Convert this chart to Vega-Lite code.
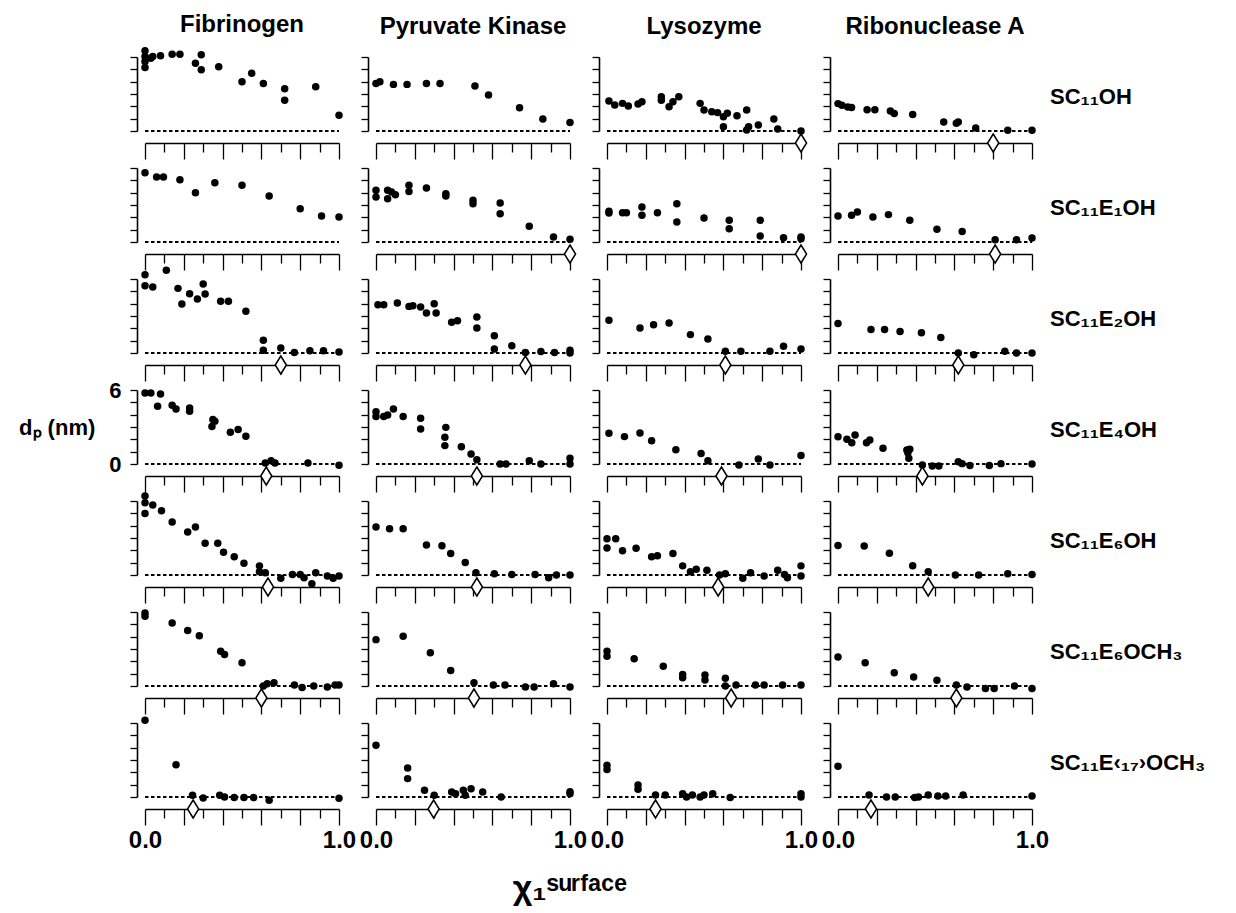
{
"$schema":"https://vega.github.io/schema/vega-lite/v6.json",
"background":"white",
"padding":{"left":18,"top":13,"right":5,"bottom":5},
"columns":4,
"spacing":{"row":37,"column":37},
"bounds":"flush",
"title":{"text":"χ₁ˢᵘʳᶠᵃᶜᵉ","orient":"bottom","anchor":"middle","fontSize":34,"fontWeight":"bold","offset":20,"dx":-42},
"datasets":{
"Fib_OH":[{"chi":0,"dp":6.5},{"chi":0,"dp":6.04},{"chi":0,"dp":5.64},{"chi":0,"dp":5.15},{"chi":0.03,"dp":5.9},{"chi":0.04,"dp":6.04},{"chi":0.08,"dp":6.1},{"chi":0.14,"dp":6.23},{"chi":0.18,"dp":6.23},{"chi":0.26,"dp":5.5},{"chi":0.29,"dp":6.18},{"chi":0.29,"dp":4.96},{"chi":0.38,"dp":5.2},{"chi":0.5,"dp":3.99},{"chi":0.55,"dp":4.69},{"chi":0.61,"dp":3.85},{"chi":0.72,"dp":3.42},{"chi":0.72,"dp":2.5},{"chi":0.88,"dp":3.58},{"chi":1,"dp":1.28}],
"PK_OH":[{"chi":0,"dp":3.86},{"chi":0.02,"dp":4.0},{"chi":0.09,"dp":3.78},{"chi":0.16,"dp":3.78},{"chi":0.26,"dp":3.86},{"chi":0.33,"dp":3.86},{"chi":0.51,"dp":3.65},{"chi":0.58,"dp":2.92},{"chi":0.74,"dp":1.89},{"chi":0.86,"dp":0.97},{"chi":1,"dp":0.68}],
"Lys_OH":[{"chi":0.01,"dp":2.43},{"chi":0.04,"dp":2.1},{"chi":0.08,"dp":2.24},{"chi":0.11,"dp":2.03},{"chi":0.16,"dp":2.19},{"chi":0.18,"dp":2.38},{"chi":0.28,"dp":2.5},{"chi":0.28,"dp":2.78},{"chi":0.32,"dp":1.97},{"chi":0.34,"dp":2.38},{"chi":0.37,"dp":2.78},{"chi":0.48,"dp":2.24},{"chi":0.5,"dp":1.7},{"chi":0.54,"dp":1.57},{"chi":0.57,"dp":1.49},{"chi":0.6,"dp":1.16},{"chi":0.6,"dp":0.35},{"chi":0.62,"dp":1.43},{"chi":0.67,"dp":1.24},{"chi":0.72,"dp":1.7},{"chi":0.72,"dp":0.08},{"chi":0.73,"dp":0.35},{"chi":0.78,"dp":0.49},{"chi":0.86,"dp":0.97},{"chi":0.88,"dp":0.16},{"chi":1,"dp":0.0}],
"RNase_OH":[{"chi":0,"dp":2.22},{"chi":0.02,"dp":2.08},{"chi":0.05,"dp":1.95},{"chi":0.07,"dp":1.9},{"chi":0.15,"dp":1.73},{"chi":0.19,"dp":1.73},{"chi":0.27,"dp":1.62},{"chi":0.29,"dp":1.41},{"chi":0.385,"dp":1.33},{"chi":0.545,"dp":0.73},{"chi":0.61,"dp":0.62},{"chi":0.62,"dp":0.73},{"chi":0.71,"dp":0.24},{"chi":0.875,"dp":0.06},{"chi":1,"dp":0.06}],
"Fib_E1":[{"chi":0,"dp":5.62},{"chi":0.06,"dp":5.27},{"chi":0.095,"dp":5.27},{"chi":0.18,"dp":5.05},{"chi":0.26,"dp":4.0},{"chi":0.36,"dp":4.81},{"chi":0.5,"dp":4.6},{"chi":0.64,"dp":3.73},{"chi":0.8,"dp":2.7},{"chi":0.91,"dp":2.1},{"chi":1,"dp":2.03}],
"PK_E1":[{"chi":0,"dp":4.19},{"chi":0,"dp":3.65},{"chi":0.06,"dp":4.19},{"chi":0.06,"dp":3.5},{"chi":0.08,"dp":4.05},{"chi":0.1,"dp":3.84},{"chi":0.17,"dp":4.6},{"chi":0.17,"dp":4.1},{"chi":0.26,"dp":4.38},{"chi":0.36,"dp":3.92},{"chi":0.36,"dp":3.73},{"chi":0.5,"dp":3.38},{"chi":0.5,"dp":3.1},{"chi":0.64,"dp":3.16},{"chi":0.64,"dp":2.3},{"chi":0.79,"dp":1.27},{"chi":0.915,"dp":0.4},{"chi":1,"dp":0.22}],
"Lys_E1":[{"chi":0.01,"dp":2.49},{"chi":0.01,"dp":2.35},{"chi":0.08,"dp":2.38},{"chi":0.1,"dp":2.38},{"chi":0.18,"dp":2.84},{"chi":0.18,"dp":2.16},{"chi":0.26,"dp":2.38},{"chi":0.36,"dp":3.1},{"chi":0.36,"dp":1.62},{"chi":0.5,"dp":1.95},{"chi":0.63,"dp":1.76},{"chi":0.63,"dp":1.08},{"chi":0.79,"dp":1.76},{"chi":0.79,"dp":0.49},{"chi":0.91,"dp":0.35},{"chi":1,"dp":0.4},{"chi":1,"dp":0.27}],
"RNase_E1":[{"chi":0,"dp":2.1},{"chi":0.07,"dp":2.16},{"chi":0.1,"dp":2.43},{"chi":0.18,"dp":2.03},{"chi":0.26,"dp":2.22},{"chi":0.37,"dp":1.76},{"chi":0.51,"dp":1.03},{"chi":0.64,"dp":0.86},{"chi":0.81,"dp":0.19},{"chi":0.92,"dp":0.19},{"chi":1,"dp":0.32}],
"Fib_E2":[{"chi":0,"dp":6.35},{"chi":0,"dp":5.46},{"chi":0.04,"dp":5.35},{"chi":0.11,"dp":6.7},{"chi":0.17,"dp":5.24},{"chi":0.19,"dp":3.97},{"chi":0.23,"dp":4.81},{"chi":0.27,"dp":4.38},{"chi":0.3,"dp":5.59},{"chi":0.31,"dp":4.78},{"chi":0.39,"dp":4.19},{"chi":0.43,"dp":4.19},{"chi":0.52,"dp":3.38},{"chi":0.61,"dp":1.03},{"chi":0.61,"dp":0.22},{"chi":0.7,"dp":0.4},{"chi":0.77,"dp":0.05},{"chi":0.85,"dp":0.19},{"chi":0.92,"dp":0.19},{"chi":1,"dp":0.08}],
"PK_E2":[{"chi":0.01,"dp":3.92},{"chi":0.04,"dp":3.92},{"chi":0.11,"dp":4.05},{"chi":0.17,"dp":3.78},{"chi":0.19,"dp":3.84},{"chi":0.23,"dp":3.73},{"chi":0.26,"dp":3.24},{"chi":0.31,"dp":3.24},{"chi":0.3,"dp":4.0},{"chi":0.39,"dp":2.49},{"chi":0.42,"dp":2.62},{"chi":0.52,"dp":2.92},{"chi":0.52,"dp":2.03},{"chi":0.61,"dp":1.4},{"chi":0.61,"dp":0.32},{"chi":0.7,"dp":0.59},{"chi":0.77,"dp":0.05},{"chi":0.85,"dp":0.13},{"chi":0.92,"dp":0.05},{"chi":1,"dp":0.22},{"chi":1,"dp":0.0}],
"Lys_E2":[{"chi":0.01,"dp":2.65},{"chi":0.17,"dp":2.03},{"chi":0.24,"dp":2.3},{"chi":0.32,"dp":2.43},{"chi":0.43,"dp":1.49},{"chi":0.52,"dp":1.14},{"chi":0.61,"dp":0.14},{"chi":0.69,"dp":0.14},{"chi":0.84,"dp":0.14},{"chi":0.91,"dp":0.54},{"chi":1,"dp":0.32}],
"RNase_E2":[{"chi":0,"dp":2.4},{"chi":0.17,"dp":1.9},{"chi":0.24,"dp":1.9},{"chi":0.32,"dp":1.75},{"chi":0.43,"dp":1.65},{"chi":0.53,"dp":1.25},{"chi":0.62,"dp":0.0},{"chi":0.7,"dp":-0.15},{"chi":0.86,"dp":0.14},{"chi":0.92,"dp":0.0},{"chi":1,"dp":0.0}],
"Fib_E4":[{"chi":0,"dp":5.76},{"chi":0.03,"dp":5.76},{"chi":0.08,"dp":5.68},{"chi":0.065,"dp":4.68},{"chi":0.14,"dp":4.76},{"chi":0.16,"dp":4.46},{"chi":0.23,"dp":4.54},{"chi":0.23,"dp":4.27},{"chi":0.35,"dp":3.6},{"chi":0.36,"dp":3.46},{"chi":0.345,"dp":3.05},{"chi":0.44,"dp":2.57},{"chi":0.48,"dp":2.79},{"chi":0.52,"dp":2.25},{"chi":0.62,"dp":0.08},{"chi":0.65,"dp":0.27},{"chi":0.67,"dp":0.08},{"chi":0.84,"dp":0.08},{"chi":1,"dp":-0.1}],
"PK_E4":[{"chi":0,"dp":4.24},{"chi":0,"dp":3.86},{"chi":0.04,"dp":3.86},{"chi":0.06,"dp":3.97},{"chi":0.09,"dp":4.46},{"chi":0.14,"dp":3.86},{"chi":0.23,"dp":3.7},{"chi":0.23,"dp":2.84},{"chi":0.36,"dp":2.97},{"chi":0.355,"dp":2.16},{"chi":0.355,"dp":1.49},{"chi":0.44,"dp":1.4},{"chi":0.49,"dp":0.81},{"chi":0.52,"dp":0.35},{"chi":0.64,"dp":0.0},{"chi":0.67,"dp":0.0},{"chi":0.79,"dp":0.27},{"chi":0.85,"dp":0.0},{"chi":1,"dp":0.46},{"chi":1,"dp":0.0}],
"Lys_E4":[{"chi":0.01,"dp":2.49},{"chi":0.09,"dp":2.22},{"chi":0.17,"dp":2.51},{"chi":0.23,"dp":1.89},{"chi":0.355,"dp":1.16},{"chi":0.485,"dp":0.86},{"chi":0.52,"dp":0.27},{"chi":0.68,"dp":-0.08},{"chi":0.78,"dp":0.4},{"chi":0.84,"dp":-0.08},{"chi":1,"dp":0.68}],
"RNase_E4":[{"chi":0,"dp":2.21},{"chi":0.046,"dp":2.0},{"chi":0.071,"dp":1.73},{"chi":0.088,"dp":2.35},{"chi":0.147,"dp":1.73},{"chi":0.164,"dp":1.95},{"chi":0.232,"dp":1.27},{"chi":0.355,"dp":1.14},{"chi":0.36,"dp":0.92},{"chi":0.365,"dp":0.46},{"chi":0.37,"dp":1.19},{"chi":0.435,"dp":-0.08},{"chi":0.486,"dp":-0.16},{"chi":0.52,"dp":-0.16},{"chi":0.62,"dp":0.19},{"chi":0.64,"dp":0.03},{"chi":0.68,"dp":-0.13},{"chi":0.78,"dp":-0.13},{"chi":0.84,"dp":0.03},{"chi":1,"dp":0.0}],
"Fib_E6":[{"chi":0,"dp":6.4},{"chi":0,"dp":5.86},{"chi":0,"dp":4.99},{"chi":0.04,"dp":5.67},{"chi":0.085,"dp":5.2},{"chi":0.14,"dp":4.3},{"chi":0.22,"dp":3.48},{"chi":0.26,"dp":3.89},{"chi":0.31,"dp":2.58},{"chi":0.375,"dp":2.58},{"chi":0.405,"dp":1.84},{"chi":0.46,"dp":1.48},{"chi":0.51,"dp":0.96},{"chi":0.59,"dp":0.74},{"chi":0.59,"dp":0.27},{"chi":0.62,"dp":0.19},{"chi":0.7,"dp":-0.27},{"chi":0.76,"dp":0.05},{"chi":0.8,"dp":0.05},{"chi":0.82,"dp":-0.22},{"chi":0.86,"dp":-0.71},{"chi":0.88,"dp":0.19},{"chi":0.94,"dp":-0.08},{"chi":0.97,"dp":-0.27},{"chi":1,"dp":-0.08}],
"PK_E6":[{"chi":0,"dp":3.89},{"chi":0.07,"dp":3.75},{"chi":0.14,"dp":3.75},{"chi":0.26,"dp":2.44},{"chi":0.34,"dp":2.38},{"chi":0.385,"dp":1.75},{"chi":0.46,"dp":1.01},{"chi":0.515,"dp":0.19},{"chi":0.61,"dp":0.11},{"chi":0.7,"dp":0.05},{"chi":0.82,"dp":0.05},{"chi":0.89,"dp":-0.22},{"chi":0.93,"dp":0.0},{"chi":1,"dp":0.0}],
"Lys_E6":[{"chi":0,"dp":2.93},{"chi":0,"dp":2.19},{"chi":0.045,"dp":2.93},{"chi":0.08,"dp":1.97},{"chi":0.15,"dp":2.16},{"chi":0.23,"dp":1.48},{"chi":0.26,"dp":1.56},{"chi":0.34,"dp":1.75},{"chi":0.39,"dp":0.74},{"chi":0.43,"dp":0.27},{"chi":0.46,"dp":0.47},{"chi":0.515,"dp":0.38},{"chi":0.58,"dp":0.0},{"chi":0.61,"dp":0.11},{"chi":0.7,"dp":-0.27},{"chi":0.74,"dp":0.19},{"chi":0.81,"dp":-0.08},{"chi":0.88,"dp":0.38},{"chi":0.915,"dp":0.05},{"chi":0.93,"dp":-0.22},{"chi":1,"dp":0.74},{"chi":1,"dp":-0.08}],
"RNase_E6":[{"chi":0,"dp":2.4},{"chi":0.135,"dp":2.35},{"chi":0.265,"dp":1.76},{"chi":0.385,"dp":0.75},{"chi":0.465,"dp":0.27},{"chi":0.605,"dp":0.0},{"chi":0.725,"dp":0.0},{"chi":0.875,"dp":0.1},{"chi":1,"dp":0.05}],
"Fib_E6M":[{"chi":0,"dp":5.91},{"chi":0,"dp":5.65},{"chi":0.14,"dp":5.1},{"chi":0.22,"dp":4.5},{"chi":0.28,"dp":4.08},{"chi":0.39,"dp":2.82},{"chi":0.41,"dp":2.55},{"chi":0.5,"dp":1.88},{"chi":0.61,"dp":0.0},{"chi":0.63,"dp":0.19},{"chi":0.665,"dp":0.27},{"chi":0.77,"dp":0.08},{"chi":0.81,"dp":-0.13},{"chi":0.87,"dp":0.0},{"chi":0.94,"dp":-0.08},{"chi":0.98,"dp":0.08},{"chi":1,"dp":0.08}],
"PK_E6M":[{"chi":0,"dp":3.76},{"chi":0.14,"dp":4.03},{"chi":0.28,"dp":2.69},{"chi":0.385,"dp":1.26},{"chi":0.505,"dp":0.27},{"chi":0.605,"dp":0.08},{"chi":0.665,"dp":0.08},{"chi":0.77,"dp":-0.08},{"chi":0.815,"dp":-0.08},{"chi":0.915,"dp":0.19},{"chi":1,"dp":-0.08}],
"Lys_E6M":[{"chi":0,"dp":2.82},{"chi":0,"dp":2.42},{"chi":0.14,"dp":2.2},{"chi":0.29,"dp":1.61},{"chi":0.39,"dp":0.94},{"chi":0.39,"dp":0.67},{"chi":0.505,"dp":0.89},{"chi":0.505,"dp":0.48},{"chi":0.61,"dp":0.62},{"chi":0.61,"dp":0.0},{"chi":0.665,"dp":0.08},{"chi":0.765,"dp":0.08},{"chi":0.81,"dp":0.08},{"chi":0.905,"dp":0.08},{"chi":1,"dp":0.08}],
"RNase_E6M":[{"chi":0,"dp":2.35},{"chi":0.14,"dp":1.89},{"chi":0.29,"dp":1.08},{"chi":0.39,"dp":0.73},{"chi":0.51,"dp":0.46},{"chi":0.61,"dp":0.08},{"chi":0.665,"dp":-0.08},{"chi":0.76,"dp":-0.2},{"chi":0.805,"dp":-0.2},{"chi":0.91,"dp":0.0},{"chi":1,"dp":-0.2}],
"Fib_E17":[{"chi":0,"dp":6.22},{"chi":0.16,"dp":2.62},{"chi":0.245,"dp":0.14},{"chi":0.3,"dp":-0.08},{"chi":0.385,"dp":0.14},{"chi":0.41,"dp":0.0},{"chi":0.46,"dp":-0.05},{"chi":0.51,"dp":-0.05},{"chi":0.56,"dp":-0.05},{"chi":0.64,"dp":-0.27},{"chi":1,"dp":-0.1}],
"PK_E17":[{"chi":0,"dp":4.19},{"chi":0.163,"dp":2.35},{"chi":0.163,"dp":1.49},{"chi":0.25,"dp":0.54},{"chi":0.3,"dp":0.14},{"chi":0.39,"dp":0.4},{"chi":0.41,"dp":0.27},{"chi":0.45,"dp":0.54},{"chi":0.46,"dp":0.14},{"chi":0.49,"dp":0.67},{"chi":0.55,"dp":0.4},{"chi":0.645,"dp":0.0},{"chi":1,"dp":0.43},{"chi":1,"dp":0.27}],
"Lys_E17":[{"chi":0,"dp":2.58},{"chi":0,"dp":2.23},{"chi":0.16,"dp":0.97},{"chi":0.16,"dp":0.62},{"chi":0.25,"dp":0.16},{"chi":0.3,"dp":0.16},{"chi":0.39,"dp":0.27},{"chi":0.41,"dp":0.0},{"chi":0.44,"dp":0.16},{"chi":0.48,"dp":0.0},{"chi":0.5,"dp":0.16},{"chi":0.545,"dp":0.27},{"chi":0.635,"dp":-0.05},{"chi":1,"dp":0.27},{"chi":1,"dp":0.0}],
"RNase_E17":[{"chi":0,"dp":2.5},{"chi":0.16,"dp":0.16},{"chi":0.25,"dp":0.0},{"chi":0.295,"dp":0.0},{"chi":0.395,"dp":-0.05},{"chi":0.415,"dp":0.0},{"chi":0.465,"dp":0.16},{"chi":0.515,"dp":0.08},{"chi":0.555,"dp":0.08},{"chi":0.645,"dp":0.16},{"chi":1,"dp":0.08}],
"transitions":[
{"panel":"Fib_OH","transition":null},{"panel":"PK_OH","transition":null},{"panel":"Lys_OH","transition":1.0},{"panel":"RNase_OH","transition":0.8,"label":"SC₁₁OH"},
{"panel":"Fib_E1","transition":null},{"panel":"PK_E1","transition":1.0},{"panel":"Lys_E1","transition":1.0},{"panel":"RNase_E1","transition":0.81,"label":"SC₁₁E₁OH"},
{"panel":"Fib_E2","transition":0.7},{"panel":"PK_E2","transition":0.77},{"panel":"Lys_E2","transition":0.61},{"panel":"RNase_E2","transition":0.62,"label":"SC₁₁E₂OH"},
{"panel":"Fib_E4","transition":0.625},{"panel":"PK_E4","transition":0.52},{"panel":"Lys_E4","transition":0.59},{"panel":"RNase_E4","transition":0.435,"label":"SC₁₁E₄OH"},
{"panel":"Fib_E6","transition":0.634},{"panel":"PK_E6","transition":0.52},{"panel":"Lys_E6","transition":0.573},{"panel":"RNase_E6","transition":0.465,"label":"SC₁₁E₆OH"},
{"panel":"Fib_E6M","transition":0.6},{"panel":"PK_E6M","transition":0.505},{"panel":"Lys_E6M","transition":0.64},{"panel":"RNase_E6M","transition":0.61,"label":"SC₁₁E₆OCH₃"},
{"panel":"Fib_E17","transition":0.248},{"panel":"PK_E17","transition":0.297},{"panel":"Lys_E17","transition":0.25},{"panel":"RNase_E17","transition":0.17,"label":"SC₁₁E‹₁₇›OCH₃"}]
},
"concat":[
{"width":194,"height":74,"title":{"text":"Fibrinogen","fontSize":24,"fontWeight":"bold","anchor":"middle","frame":"group","offset":10},"layer":[
{"data":{"name":"Fib_OH"},"mark":"circle","encoding":{"x":{"field":"chi","type":"quantitative","title":null,"scale":{"domain":[0,1],"nice":false},"axis":{"offset":12,"tickCount":10,"tickSize":{"condition":{"test":"round(datum.value*10)%2==0","value":16},"value":9},"labels":false}},"y":{"field":"dp","type":"quantitative","title":null,"scale":{"domain":[0,6],"nice":false},"axis":{"orient":"left","offset":8,"tickCount":6,"tickSize":7,"labels":false}}}},
{"data":{"name":"transitions"},"transform":[{"filter":"datum.panel=='Fib_OH'"}],"mark":"rule","encoding":{"x":{"datum":0,"type":"quantitative"},"x2":{"datum":1},"y":{"datum":0,"type":"quantitative"}}},
{"data":{"name":"transitions"},"transform":[{"filter":"datum.panel=='Fib_OH'&&isValid(datum.transition)"}],"mark":"point","encoding":{"x":{"field":"transition","type":"quantitative"},"y":{"datum":-0.973,"type":"quantitative"}}}]},
{"width":194,"height":74,"title":{"text":"Pyruvate Kinase","fontSize":24,"fontWeight":"bold","anchor":"middle","frame":"group","offset":17},"layer":[
{"data":{"name":"PK_OH"},"mark":"circle","encoding":{"x":{"field":"chi","type":"quantitative","title":null,"scale":{"domain":[0,1],"nice":false},"axis":{"offset":12,"tickCount":10,"tickSize":{"condition":{"test":"round(datum.value*10)%2==0","value":16},"value":9},"labels":false}},"y":{"field":"dp","type":"quantitative","title":null,"scale":{"domain":[0,6],"nice":false},"axis":{"orient":"left","offset":8,"tickCount":6,"tickSize":7,"labels":false}}}},
{"data":{"name":"transitions"},"transform":[{"filter":"datum.panel=='PK_OH'"}],"mark":"rule","encoding":{"x":{"datum":0,"type":"quantitative"},"x2":{"datum":1},"y":{"datum":0,"type":"quantitative"}}},
{"data":{"name":"transitions"},"transform":[{"filter":"datum.panel=='PK_OH'&&isValid(datum.transition)"}],"mark":"point","encoding":{"x":{"field":"transition","type":"quantitative"},"y":{"datum":-0.973,"type":"quantitative"}}}]},
{"width":194,"height":74,"title":{"text":"Lysozyme","fontSize":24,"fontWeight":"bold","anchor":"middle","frame":"group","offset":17},"layer":[
{"data":{"name":"Lys_OH"},"mark":"circle","encoding":{"x":{"field":"chi","type":"quantitative","title":null,"scale":{"domain":[0,1],"nice":false},"axis":{"offset":12,"tickCount":10,"tickSize":{"condition":{"test":"round(datum.value*10)%2==0","value":16},"value":9},"labels":false}},"y":{"field":"dp","type":"quantitative","title":null,"scale":{"domain":[0,6],"nice":false},"axis":{"orient":"left","offset":8,"tickCount":6,"tickSize":7,"labels":false}}}},
{"data":{"name":"transitions"},"transform":[{"filter":"datum.panel=='Lys_OH'"}],"mark":"rule","encoding":{"x":{"datum":0,"type":"quantitative"},"x2":{"datum":1},"y":{"datum":0,"type":"quantitative"}}},
{"data":{"name":"transitions"},"transform":[{"filter":"datum.panel=='Lys_OH'&&isValid(datum.transition)"}],"mark":"point","encoding":{"x":{"field":"transition","type":"quantitative"},"y":{"datum":-0.973,"type":"quantitative"}}}]},
{"width":194,"height":74,"title":{"text":"Ribonuclease A","fontSize":24,"fontWeight":"bold","anchor":"middle","frame":"group","offset":17},"layer":[
{"data":{"name":"RNase_OH"},"mark":"circle","encoding":{"x":{"field":"chi","type":"quantitative","title":null,"scale":{"domain":[0,1],"nice":false},"axis":{"offset":12,"tickCount":10,"tickSize":{"condition":{"test":"round(datum.value*10)%2==0","value":16},"value":9},"labels":false}},"y":{"field":"dp","type":"quantitative","title":null,"scale":{"domain":[0,6],"nice":false},"axis":{"orient":"left","offset":8,"tickCount":6,"tickSize":7,"labels":false}}}},
{"data":{"name":"transitions"},"transform":[{"filter":"datum.panel=='RNase_OH'"}],"mark":"rule","encoding":{"x":{"datum":0,"type":"quantitative"},"x2":{"datum":1},"y":{"datum":0,"type":"quantitative"}}},
{"data":{"name":"transitions"},"transform":[{"filter":"datum.panel=='RNase_OH'&&isValid(datum.transition)"}],"mark":"point","encoding":{"x":{"field":"transition","type":"quantitative"},"y":{"datum":-0.973,"type":"quantitative"}}},
{"data":{"name":"transitions"},"transform":[{"filter":"datum.panel=='RNase_OH'"}],"mark":{"type":"text","align":"left","baseline":"middle","fontSize":22,"fontWeight":"bold"},"encoding":{"x":{"datum":1.093,"type":"quantitative"},"y":{"datum":2.75,"type":"quantitative"},"text":{"field":"label"}}}]},

{"width":194,"height":74,"layer":[
{"data":{"name":"Fib_E1"},"mark":"circle","encoding":{"x":{"field":"chi","type":"quantitative","title":null,"scale":{"domain":[0,1],"nice":false},"axis":{"offset":12,"tickCount":10,"tickSize":{"condition":{"test":"round(datum.value*10)%2==0","value":16},"value":9},"labels":false}},"y":{"field":"dp","type":"quantitative","title":null,"scale":{"domain":[0,6],"nice":false},"axis":{"orient":"left","offset":8,"tickCount":6,"tickSize":7,"labels":false}}}},
{"data":{"name":"transitions"},"transform":[{"filter":"datum.panel=='Fib_E1'"}],"mark":"rule","encoding":{"x":{"datum":0,"type":"quantitative"},"x2":{"datum":1},"y":{"datum":0,"type":"quantitative"}}},
{"data":{"name":"transitions"},"transform":[{"filter":"datum.panel=='Fib_E1'&&isValid(datum.transition)"}],"mark":"point","encoding":{"x":{"field":"transition","type":"quantitative"},"y":{"datum":-0.973,"type":"quantitative"}}}]},
{"width":194,"height":74,"layer":[
{"data":{"name":"PK_E1"},"mark":"circle","encoding":{"x":{"field":"chi","type":"quantitative","title":null,"scale":{"domain":[0,1],"nice":false},"axis":{"offset":12,"tickCount":10,"tickSize":{"condition":{"test":"round(datum.value*10)%2==0","value":16},"value":9},"labels":false}},"y":{"field":"dp","type":"quantitative","title":null,"scale":{"domain":[0,6],"nice":false},"axis":{"orient":"left","offset":8,"tickCount":6,"tickSize":7,"labels":false}}}},
{"data":{"name":"transitions"},"transform":[{"filter":"datum.panel=='PK_E1'"}],"mark":"rule","encoding":{"x":{"datum":0,"type":"quantitative"},"x2":{"datum":1},"y":{"datum":0,"type":"quantitative"}}},
{"data":{"name":"transitions"},"transform":[{"filter":"datum.panel=='PK_E1'&&isValid(datum.transition)"}],"mark":"point","encoding":{"x":{"field":"transition","type":"quantitative"},"y":{"datum":-0.973,"type":"quantitative"}}}]},
{"width":194,"height":74,"layer":[
{"data":{"name":"Lys_E1"},"mark":"circle","encoding":{"x":{"field":"chi","type":"quantitative","title":null,"scale":{"domain":[0,1],"nice":false},"axis":{"offset":12,"tickCount":10,"tickSize":{"condition":{"test":"round(datum.value*10)%2==0","value":16},"value":9},"labels":false}},"y":{"field":"dp","type":"quantitative","title":null,"scale":{"domain":[0,6],"nice":false},"axis":{"orient":"left","offset":8,"tickCount":6,"tickSize":7,"labels":false}}}},
{"data":{"name":"transitions"},"transform":[{"filter":"datum.panel=='Lys_E1'"}],"mark":"rule","encoding":{"x":{"datum":0,"type":"quantitative"},"x2":{"datum":1},"y":{"datum":0,"type":"quantitative"}}},
{"data":{"name":"transitions"},"transform":[{"filter":"datum.panel=='Lys_E1'&&isValid(datum.transition)"}],"mark":"point","encoding":{"x":{"field":"transition","type":"quantitative"},"y":{"datum":-0.973,"type":"quantitative"}}}]},
{"width":194,"height":74,"layer":[
{"data":{"name":"RNase_E1"},"mark":"circle","encoding":{"x":{"field":"chi","type":"quantitative","title":null,"scale":{"domain":[0,1],"nice":false},"axis":{"offset":12,"tickCount":10,"tickSize":{"condition":{"test":"round(datum.value*10)%2==0","value":16},"value":9},"labels":false}},"y":{"field":"dp","type":"quantitative","title":null,"scale":{"domain":[0,6],"nice":false},"axis":{"orient":"left","offset":8,"tickCount":6,"tickSize":7,"labels":false}}}},
{"data":{"name":"transitions"},"transform":[{"filter":"datum.panel=='RNase_E1'"}],"mark":"rule","encoding":{"x":{"datum":0,"type":"quantitative"},"x2":{"datum":1},"y":{"datum":0,"type":"quantitative"}}},
{"data":{"name":"transitions"},"transform":[{"filter":"datum.panel=='RNase_E1'&&isValid(datum.transition)"}],"mark":"point","encoding":{"x":{"field":"transition","type":"quantitative"},"y":{"datum":-0.973,"type":"quantitative"}}},
{"data":{"name":"transitions"},"transform":[{"filter":"datum.panel=='RNase_E1'"}],"mark":{"type":"text","align":"left","baseline":"middle","fontSize":22,"fontWeight":"bold"},"encoding":{"x":{"datum":1.093,"type":"quantitative"},"y":{"datum":2.75,"type":"quantitative"},"text":{"field":"label"}}}]},

{"width":194,"height":74,"layer":[
{"data":{"name":"Fib_E2"},"mark":"circle","encoding":{"x":{"field":"chi","type":"quantitative","title":null,"scale":{"domain":[0,1],"nice":false},"axis":{"offset":12,"tickCount":10,"tickSize":{"condition":{"test":"round(datum.value*10)%2==0","value":16},"value":9},"labels":false}},"y":{"field":"dp","type":"quantitative","title":null,"scale":{"domain":[0,6],"nice":false},"axis":{"orient":"left","offset":8,"tickCount":6,"tickSize":7,"labels":false}}}},
{"data":{"name":"transitions"},"transform":[{"filter":"datum.panel=='Fib_E2'"}],"mark":"rule","encoding":{"x":{"datum":0,"type":"quantitative"},"x2":{"datum":1},"y":{"datum":0,"type":"quantitative"}}},
{"data":{"name":"transitions"},"transform":[{"filter":"datum.panel=='Fib_E2'&&isValid(datum.transition)"}],"mark":"point","encoding":{"x":{"field":"transition","type":"quantitative"},"y":{"datum":-0.973,"type":"quantitative"}}}]},
{"width":194,"height":74,"layer":[
{"data":{"name":"PK_E2"},"mark":"circle","encoding":{"x":{"field":"chi","type":"quantitative","title":null,"scale":{"domain":[0,1],"nice":false},"axis":{"offset":12,"tickCount":10,"tickSize":{"condition":{"test":"round(datum.value*10)%2==0","value":16},"value":9},"labels":false}},"y":{"field":"dp","type":"quantitative","title":null,"scale":{"domain":[0,6],"nice":false},"axis":{"orient":"left","offset":8,"tickCount":6,"tickSize":7,"labels":false}}}},
{"data":{"name":"transitions"},"transform":[{"filter":"datum.panel=='PK_E2'"}],"mark":"rule","encoding":{"x":{"datum":0,"type":"quantitative"},"x2":{"datum":1},"y":{"datum":0,"type":"quantitative"}}},
{"data":{"name":"transitions"},"transform":[{"filter":"datum.panel=='PK_E2'&&isValid(datum.transition)"}],"mark":"point","encoding":{"x":{"field":"transition","type":"quantitative"},"y":{"datum":-0.973,"type":"quantitative"}}}]},
{"width":194,"height":74,"layer":[
{"data":{"name":"Lys_E2"},"mark":"circle","encoding":{"x":{"field":"chi","type":"quantitative","title":null,"scale":{"domain":[0,1],"nice":false},"axis":{"offset":12,"tickCount":10,"tickSize":{"condition":{"test":"round(datum.value*10)%2==0","value":16},"value":9},"labels":false}},"y":{"field":"dp","type":"quantitative","title":null,"scale":{"domain":[0,6],"nice":false},"axis":{"orient":"left","offset":8,"tickCount":6,"tickSize":7,"labels":false}}}},
{"data":{"name":"transitions"},"transform":[{"filter":"datum.panel=='Lys_E2'"}],"mark":"rule","encoding":{"x":{"datum":0,"type":"quantitative"},"x2":{"datum":1},"y":{"datum":0,"type":"quantitative"}}},
{"data":{"name":"transitions"},"transform":[{"filter":"datum.panel=='Lys_E2'&&isValid(datum.transition)"}],"mark":"point","encoding":{"x":{"field":"transition","type":"quantitative"},"y":{"datum":-0.973,"type":"quantitative"}}}]},
{"width":194,"height":74,"layer":[
{"data":{"name":"RNase_E2"},"mark":"circle","encoding":{"x":{"field":"chi","type":"quantitative","title":null,"scale":{"domain":[0,1],"nice":false},"axis":{"offset":12,"tickCount":10,"tickSize":{"condition":{"test":"round(datum.value*10)%2==0","value":16},"value":9},"labels":false}},"y":{"field":"dp","type":"quantitative","title":null,"scale":{"domain":[0,6],"nice":false},"axis":{"orient":"left","offset":8,"tickCount":6,"tickSize":7,"labels":false}}}},
{"data":{"name":"transitions"},"transform":[{"filter":"datum.panel=='RNase_E2'"}],"mark":"rule","encoding":{"x":{"datum":0,"type":"quantitative"},"x2":{"datum":1},"y":{"datum":0,"type":"quantitative"}}},
{"data":{"name":"transitions"},"transform":[{"filter":"datum.panel=='RNase_E2'&&isValid(datum.transition)"}],"mark":"point","encoding":{"x":{"field":"transition","type":"quantitative"},"y":{"datum":-0.973,"type":"quantitative"}}},
{"data":{"name":"transitions"},"transform":[{"filter":"datum.panel=='RNase_E2'"}],"mark":{"type":"text","align":"left","baseline":"middle","fontSize":22,"fontWeight":"bold"},"encoding":{"x":{"datum":1.093,"type":"quantitative"},"y":{"datum":2.75,"type":"quantitative"},"text":{"field":"label"}}}]},

{"width":194,"height":74,"layer":[
{"data":{"name":"Fib_E4"},"mark":"circle","encoding":{"x":{"field":"chi","type":"quantitative","title":null,"scale":{"domain":[0,1],"nice":false},"axis":{"offset":12,"tickCount":10,"tickSize":{"condition":{"test":"round(datum.value*10)%2==0","value":16},"value":9},"labels":false}},"y":{"field":"dp","type":"quantitative","title":"dₚ (nm)","scale":{"domain":[0,6],"nice":false},"axis":{"orient":"left","offset":8,"tickCount":6,"tickSize":7,"labels":true,"labelExpr":"datum.value==0||datum.value==6?datum.label:''","labelFontSize":22,"labelFontWeight":"bold","labelPadding":9,"titleAngle":0,"titleAlign":"right","titleBaseline":"middle","titleFontSize":22,"titleFontWeight":"bold","titlePadding":14}}}},
{"data":{"name":"transitions"},"transform":[{"filter":"datum.panel=='Fib_E4'"}],"mark":"rule","encoding":{"x":{"datum":0,"type":"quantitative"},"x2":{"datum":1},"y":{"datum":0,"type":"quantitative"}}},
{"data":{"name":"transitions"},"transform":[{"filter":"datum.panel=='Fib_E4'&&isValid(datum.transition)"}],"mark":"point","encoding":{"x":{"field":"transition","type":"quantitative"},"y":{"datum":-0.973,"type":"quantitative"}}}]},
{"width":194,"height":74,"layer":[
{"data":{"name":"PK_E4"},"mark":"circle","encoding":{"x":{"field":"chi","type":"quantitative","title":null,"scale":{"domain":[0,1],"nice":false},"axis":{"offset":12,"tickCount":10,"tickSize":{"condition":{"test":"round(datum.value*10)%2==0","value":16},"value":9},"labels":false}},"y":{"field":"dp","type":"quantitative","title":null,"scale":{"domain":[0,6],"nice":false},"axis":{"orient":"left","offset":8,"tickCount":6,"tickSize":7,"labels":false}}}},
{"data":{"name":"transitions"},"transform":[{"filter":"datum.panel=='PK_E4'"}],"mark":"rule","encoding":{"x":{"datum":0,"type":"quantitative"},"x2":{"datum":1},"y":{"datum":0,"type":"quantitative"}}},
{"data":{"name":"transitions"},"transform":[{"filter":"datum.panel=='PK_E4'&&isValid(datum.transition)"}],"mark":"point","encoding":{"x":{"field":"transition","type":"quantitative"},"y":{"datum":-0.973,"type":"quantitative"}}}]},
{"width":194,"height":74,"layer":[
{"data":{"name":"Lys_E4"},"mark":"circle","encoding":{"x":{"field":"chi","type":"quantitative","title":null,"scale":{"domain":[0,1],"nice":false},"axis":{"offset":12,"tickCount":10,"tickSize":{"condition":{"test":"round(datum.value*10)%2==0","value":16},"value":9},"labels":false}},"y":{"field":"dp","type":"quantitative","title":null,"scale":{"domain":[0,6],"nice":false},"axis":{"orient":"left","offset":8,"tickCount":6,"tickSize":7,"labels":false}}}},
{"data":{"name":"transitions"},"transform":[{"filter":"datum.panel=='Lys_E4'"}],"mark":"rule","encoding":{"x":{"datum":0,"type":"quantitative"},"x2":{"datum":1},"y":{"datum":0,"type":"quantitative"}}},
{"data":{"name":"transitions"},"transform":[{"filter":"datum.panel=='Lys_E4'&&isValid(datum.transition)"}],"mark":"point","encoding":{"x":{"field":"transition","type":"quantitative"},"y":{"datum":-0.973,"type":"quantitative"}}}]},
{"width":194,"height":74,"layer":[
{"data":{"name":"RNase_E4"},"mark":"circle","encoding":{"x":{"field":"chi","type":"quantitative","title":null,"scale":{"domain":[0,1],"nice":false},"axis":{"offset":12,"tickCount":10,"tickSize":{"condition":{"test":"round(datum.value*10)%2==0","value":16},"value":9},"labels":false}},"y":{"field":"dp","type":"quantitative","title":null,"scale":{"domain":[0,6],"nice":false},"axis":{"orient":"left","offset":8,"tickCount":6,"tickSize":7,"labels":false}}}},
{"data":{"name":"transitions"},"transform":[{"filter":"datum.panel=='RNase_E4'"}],"mark":"rule","encoding":{"x":{"datum":0,"type":"quantitative"},"x2":{"datum":1},"y":{"datum":0,"type":"quantitative"}}},
{"data":{"name":"transitions"},"transform":[{"filter":"datum.panel=='RNase_E4'&&isValid(datum.transition)"}],"mark":"point","encoding":{"x":{"field":"transition","type":"quantitative"},"y":{"datum":-0.973,"type":"quantitative"}}},
{"data":{"name":"transitions"},"transform":[{"filter":"datum.panel=='RNase_E4'"}],"mark":{"type":"text","align":"left","baseline":"middle","fontSize":22,"fontWeight":"bold"},"encoding":{"x":{"datum":1.093,"type":"quantitative"},"y":{"datum":2.75,"type":"quantitative"},"text":{"field":"label"}}}]},

{"width":194,"height":74,"layer":[
{"data":{"name":"Fib_E6"},"mark":"circle","encoding":{"x":{"field":"chi","type":"quantitative","title":null,"scale":{"domain":[0,1],"nice":false},"axis":{"offset":12,"tickCount":10,"tickSize":{"condition":{"test":"round(datum.value*10)%2==0","value":16},"value":9},"labels":false}},"y":{"field":"dp","type":"quantitative","title":null,"scale":{"domain":[0,6],"nice":false},"axis":{"orient":"left","offset":8,"tickCount":6,"tickSize":7,"labels":false}}}},
{"data":{"name":"transitions"},"transform":[{"filter":"datum.panel=='Fib_E6'"}],"mark":"rule","encoding":{"x":{"datum":0,"type":"quantitative"},"x2":{"datum":1},"y":{"datum":0,"type":"quantitative"}}},
{"data":{"name":"transitions"},"transform":[{"filter":"datum.panel=='Fib_E6'&&isValid(datum.transition)"}],"mark":"point","encoding":{"x":{"field":"transition","type":"quantitative"},"y":{"datum":-0.973,"type":"quantitative"}}}]},
{"width":194,"height":74,"layer":[
{"data":{"name":"PK_E6"},"mark":"circle","encoding":{"x":{"field":"chi","type":"quantitative","title":null,"scale":{"domain":[0,1],"nice":false},"axis":{"offset":12,"tickCount":10,"tickSize":{"condition":{"test":"round(datum.value*10)%2==0","value":16},"value":9},"labels":false}},"y":{"field":"dp","type":"quantitative","title":null,"scale":{"domain":[0,6],"nice":false},"axis":{"orient":"left","offset":8,"tickCount":6,"tickSize":7,"labels":false}}}},
{"data":{"name":"transitions"},"transform":[{"filter":"datum.panel=='PK_E6'"}],"mark":"rule","encoding":{"x":{"datum":0,"type":"quantitative"},"x2":{"datum":1},"y":{"datum":0,"type":"quantitative"}}},
{"data":{"name":"transitions"},"transform":[{"filter":"datum.panel=='PK_E6'&&isValid(datum.transition)"}],"mark":"point","encoding":{"x":{"field":"transition","type":"quantitative"},"y":{"datum":-0.973,"type":"quantitative"}}}]},
{"width":194,"height":74,"layer":[
{"data":{"name":"Lys_E6"},"mark":"circle","encoding":{"x":{"field":"chi","type":"quantitative","title":null,"scale":{"domain":[0,1],"nice":false},"axis":{"offset":12,"tickCount":10,"tickSize":{"condition":{"test":"round(datum.value*10)%2==0","value":16},"value":9},"labels":false}},"y":{"field":"dp","type":"quantitative","title":null,"scale":{"domain":[0,6],"nice":false},"axis":{"orient":"left","offset":8,"tickCount":6,"tickSize":7,"labels":false}}}},
{"data":{"name":"transitions"},"transform":[{"filter":"datum.panel=='Lys_E6'"}],"mark":"rule","encoding":{"x":{"datum":0,"type":"quantitative"},"x2":{"datum":1},"y":{"datum":0,"type":"quantitative"}}},
{"data":{"name":"transitions"},"transform":[{"filter":"datum.panel=='Lys_E6'&&isValid(datum.transition)"}],"mark":"point","encoding":{"x":{"field":"transition","type":"quantitative"},"y":{"datum":-0.973,"type":"quantitative"}}}]},
{"width":194,"height":74,"layer":[
{"data":{"name":"RNase_E6"},"mark":"circle","encoding":{"x":{"field":"chi","type":"quantitative","title":null,"scale":{"domain":[0,1],"nice":false},"axis":{"offset":12,"tickCount":10,"tickSize":{"condition":{"test":"round(datum.value*10)%2==0","value":16},"value":9},"labels":false}},"y":{"field":"dp","type":"quantitative","title":null,"scale":{"domain":[0,6],"nice":false},"axis":{"orient":"left","offset":8,"tickCount":6,"tickSize":7,"labels":false}}}},
{"data":{"name":"transitions"},"transform":[{"filter":"datum.panel=='RNase_E6'"}],"mark":"rule","encoding":{"x":{"datum":0,"type":"quantitative"},"x2":{"datum":1},"y":{"datum":0,"type":"quantitative"}}},
{"data":{"name":"transitions"},"transform":[{"filter":"datum.panel=='RNase_E6'&&isValid(datum.transition)"}],"mark":"point","encoding":{"x":{"field":"transition","type":"quantitative"},"y":{"datum":-0.973,"type":"quantitative"}}},
{"data":{"name":"transitions"},"transform":[{"filter":"datum.panel=='RNase_E6'"}],"mark":{"type":"text","align":"left","baseline":"middle","fontSize":22,"fontWeight":"bold"},"encoding":{"x":{"datum":1.093,"type":"quantitative"},"y":{"datum":2.75,"type":"quantitative"},"text":{"field":"label"}}}]},

{"width":194,"height":74,"layer":[
{"data":{"name":"Fib_E6M"},"mark":"circle","encoding":{"x":{"field":"chi","type":"quantitative","title":null,"scale":{"domain":[0,1],"nice":false},"axis":{"offset":12,"tickCount":10,"tickSize":{"condition":{"test":"round(datum.value*10)%2==0","value":16},"value":9},"labels":false}},"y":{"field":"dp","type":"quantitative","title":null,"scale":{"domain":[0,6],"nice":false},"axis":{"orient":"left","offset":8,"tickCount":6,"tickSize":7,"labels":false}}}},
{"data":{"name":"transitions"},"transform":[{"filter":"datum.panel=='Fib_E6M'"}],"mark":"rule","encoding":{"x":{"datum":0,"type":"quantitative"},"x2":{"datum":1},"y":{"datum":0,"type":"quantitative"}}},
{"data":{"name":"transitions"},"transform":[{"filter":"datum.panel=='Fib_E6M'&&isValid(datum.transition)"}],"mark":"point","encoding":{"x":{"field":"transition","type":"quantitative"},"y":{"datum":-0.973,"type":"quantitative"}}}]},
{"width":194,"height":74,"layer":[
{"data":{"name":"PK_E6M"},"mark":"circle","encoding":{"x":{"field":"chi","type":"quantitative","title":null,"scale":{"domain":[0,1],"nice":false},"axis":{"offset":12,"tickCount":10,"tickSize":{"condition":{"test":"round(datum.value*10)%2==0","value":16},"value":9},"labels":false}},"y":{"field":"dp","type":"quantitative","title":null,"scale":{"domain":[0,6],"nice":false},"axis":{"orient":"left","offset":8,"tickCount":6,"tickSize":7,"labels":false}}}},
{"data":{"name":"transitions"},"transform":[{"filter":"datum.panel=='PK_E6M'"}],"mark":"rule","encoding":{"x":{"datum":0,"type":"quantitative"},"x2":{"datum":1},"y":{"datum":0,"type":"quantitative"}}},
{"data":{"name":"transitions"},"transform":[{"filter":"datum.panel=='PK_E6M'&&isValid(datum.transition)"}],"mark":"point","encoding":{"x":{"field":"transition","type":"quantitative"},"y":{"datum":-0.973,"type":"quantitative"}}}]},
{"width":194,"height":74,"layer":[
{"data":{"name":"Lys_E6M"},"mark":"circle","encoding":{"x":{"field":"chi","type":"quantitative","title":null,"scale":{"domain":[0,1],"nice":false},"axis":{"offset":12,"tickCount":10,"tickSize":{"condition":{"test":"round(datum.value*10)%2==0","value":16},"value":9},"labels":false}},"y":{"field":"dp","type":"quantitative","title":null,"scale":{"domain":[0,6],"nice":false},"axis":{"orient":"left","offset":8,"tickCount":6,"tickSize":7,"labels":false}}}},
{"data":{"name":"transitions"},"transform":[{"filter":"datum.panel=='Lys_E6M'"}],"mark":"rule","encoding":{"x":{"datum":0,"type":"quantitative"},"x2":{"datum":1},"y":{"datum":0,"type":"quantitative"}}},
{"data":{"name":"transitions"},"transform":[{"filter":"datum.panel=='Lys_E6M'&&isValid(datum.transition)"}],"mark":"point","encoding":{"x":{"field":"transition","type":"quantitative"},"y":{"datum":-0.973,"type":"quantitative"}}}]},
{"width":194,"height":74,"layer":[
{"data":{"name":"RNase_E6M"},"mark":"circle","encoding":{"x":{"field":"chi","type":"quantitative","title":null,"scale":{"domain":[0,1],"nice":false},"axis":{"offset":12,"tickCount":10,"tickSize":{"condition":{"test":"round(datum.value*10)%2==0","value":16},"value":9},"labels":false}},"y":{"field":"dp","type":"quantitative","title":null,"scale":{"domain":[0,6],"nice":false},"axis":{"orient":"left","offset":8,"tickCount":6,"tickSize":7,"labels":false}}}},
{"data":{"name":"transitions"},"transform":[{"filter":"datum.panel=='RNase_E6M'"}],"mark":"rule","encoding":{"x":{"datum":0,"type":"quantitative"},"x2":{"datum":1},"y":{"datum":0,"type":"quantitative"}}},
{"data":{"name":"transitions"},"transform":[{"filter":"datum.panel=='RNase_E6M'&&isValid(datum.transition)"}],"mark":"point","encoding":{"x":{"field":"transition","type":"quantitative"},"y":{"datum":-0.973,"type":"quantitative"}}},
{"data":{"name":"transitions"},"transform":[{"filter":"datum.panel=='RNase_E6M'"}],"mark":{"type":"text","align":"left","baseline":"middle","fontSize":22,"fontWeight":"bold"},"encoding":{"x":{"datum":1.093,"type":"quantitative"},"y":{"datum":2.75,"type":"quantitative"},"text":{"field":"label"}}}]},

{"width":194,"height":74,"layer":[
{"data":{"name":"Fib_E17"},"mark":"circle","encoding":{"x":{"field":"chi","type":"quantitative","title":null,"scale":{"domain":[0,1],"nice":false},"axis":{"offset":12,"tickCount":10,"tickSize":{"condition":{"test":"round(datum.value*10)%2==0","value":16},"value":9},"labels":true,"labelExpr":"datum.value==0||datum.value==1?datum.label:''","labelFlush":false,"labelOverlap":false,"labelBound":false,"labelFontSize":24,"labelFontWeight":"bold","labelPadding":3}},"y":{"field":"dp","type":"quantitative","title":null,"scale":{"domain":[0,6],"nice":false},"axis":{"orient":"left","offset":8,"tickCount":6,"tickSize":7,"labels":false}}}},
{"data":{"name":"transitions"},"transform":[{"filter":"datum.panel=='Fib_E17'"}],"mark":"rule","encoding":{"x":{"datum":0,"type":"quantitative"},"x2":{"datum":1},"y":{"datum":0,"type":"quantitative"}}},
{"data":{"name":"transitions"},"transform":[{"filter":"datum.panel=='Fib_E17'&&isValid(datum.transition)"}],"mark":"point","encoding":{"x":{"field":"transition","type":"quantitative"},"y":{"datum":-0.973,"type":"quantitative"}}}]},
{"width":194,"height":74,"layer":[
{"data":{"name":"PK_E17"},"mark":"circle","encoding":{"x":{"field":"chi","type":"quantitative","title":null,"scale":{"domain":[0,1],"nice":false},"axis":{"offset":12,"tickCount":10,"tickSize":{"condition":{"test":"round(datum.value*10)%2==0","value":16},"value":9},"labels":true,"labelExpr":"datum.value==0||datum.value==1?datum.label:''","labelFlush":false,"labelOverlap":false,"labelBound":false,"labelFontSize":24,"labelFontWeight":"bold","labelPadding":3}},"y":{"field":"dp","type":"quantitative","title":null,"scale":{"domain":[0,6],"nice":false},"axis":{"orient":"left","offset":8,"tickCount":6,"tickSize":7,"labels":false}}}},
{"data":{"name":"transitions"},"transform":[{"filter":"datum.panel=='PK_E17'"}],"mark":"rule","encoding":{"x":{"datum":0,"type":"quantitative"},"x2":{"datum":1},"y":{"datum":0,"type":"quantitative"}}},
{"data":{"name":"transitions"},"transform":[{"filter":"datum.panel=='PK_E17'&&isValid(datum.transition)"}],"mark":"point","encoding":{"x":{"field":"transition","type":"quantitative"},"y":{"datum":-0.973,"type":"quantitative"}}}]},
{"width":194,"height":74,"layer":[
{"data":{"name":"Lys_E17"},"mark":"circle","encoding":{"x":{"field":"chi","type":"quantitative","title":null,"scale":{"domain":[0,1],"nice":false},"axis":{"offset":12,"tickCount":10,"tickSize":{"condition":{"test":"round(datum.value*10)%2==0","value":16},"value":9},"labels":true,"labelExpr":"datum.value==0||datum.value==1?datum.label:''","labelFlush":false,"labelOverlap":false,"labelBound":false,"labelFontSize":24,"labelFontWeight":"bold","labelPadding":3}},"y":{"field":"dp","type":"quantitative","title":null,"scale":{"domain":[0,6],"nice":false},"axis":{"orient":"left","offset":8,"tickCount":6,"tickSize":7,"labels":false}}}},
{"data":{"name":"transitions"},"transform":[{"filter":"datum.panel=='Lys_E17'"}],"mark":"rule","encoding":{"x":{"datum":0,"type":"quantitative"},"x2":{"datum":1},"y":{"datum":0,"type":"quantitative"}}},
{"data":{"name":"transitions"},"transform":[{"filter":"datum.panel=='Lys_E17'&&isValid(datum.transition)"}],"mark":"point","encoding":{"x":{"field":"transition","type":"quantitative"},"y":{"datum":-0.973,"type":"quantitative"}}}]},
{"width":194,"height":74,"layer":[
{"data":{"name":"RNase_E17"},"mark":"circle","encoding":{"x":{"field":"chi","type":"quantitative","title":null,"scale":{"domain":[0,1],"nice":false},"axis":{"offset":12,"tickCount":10,"tickSize":{"condition":{"test":"round(datum.value*10)%2==0","value":16},"value":9},"labels":true,"labelExpr":"datum.value==0||datum.value==1?datum.label:''","labelFlush":false,"labelOverlap":false,"labelBound":false,"labelFontSize":24,"labelFontWeight":"bold","labelPadding":3}},"y":{"field":"dp","type":"quantitative","title":null,"scale":{"domain":[0,6],"nice":false},"axis":{"orient":"left","offset":8,"tickCount":6,"tickSize":7,"labels":false}}}},
{"data":{"name":"transitions"},"transform":[{"filter":"datum.panel=='RNase_E17'"}],"mark":"rule","encoding":{"x":{"datum":0,"type":"quantitative"},"x2":{"datum":1},"y":{"datum":0,"type":"quantitative"}}},
{"data":{"name":"transitions"},"transform":[{"filter":"datum.panel=='RNase_E17'&&isValid(datum.transition)"}],"mark":"point","encoding":{"x":{"field":"transition","type":"quantitative"},"y":{"datum":-0.973,"type":"quantitative"}}},
{"data":{"name":"transitions"},"transform":[{"filter":"datum.panel=='RNase_E17'"}],"mark":{"type":"text","align":"left","baseline":"middle","fontSize":22,"fontWeight":"bold"},"encoding":{"x":{"datum":1.093,"type":"quantitative"},"y":{"datum":2.75,"type":"quantitative"},"text":{"field":"label"}}}]}
],
"config":{
"view":{"stroke":null},
"font":"Liberation Sans",
"axis":{"domainColor":"black","domainWidth":1.6,"tickColor":"black","tickWidth":1.3,"labelColor":"black","titleColor":"black","grid":false},
"title":{"color":"black"},
"text":{"color":"black"},
"circle":{"size":56,"color":"black","opacity":1},
"point":{"shape":"M0,-1L0.62,0L0,1L-0.62,0Z","size":324,"filled":true,"fill":"white","stroke":"black","strokeWidth":1.5,"opacity":1},
"rule":{"strokeDash":[3.5,2.5],"strokeWidth":2,"color":"black"}
}
}
